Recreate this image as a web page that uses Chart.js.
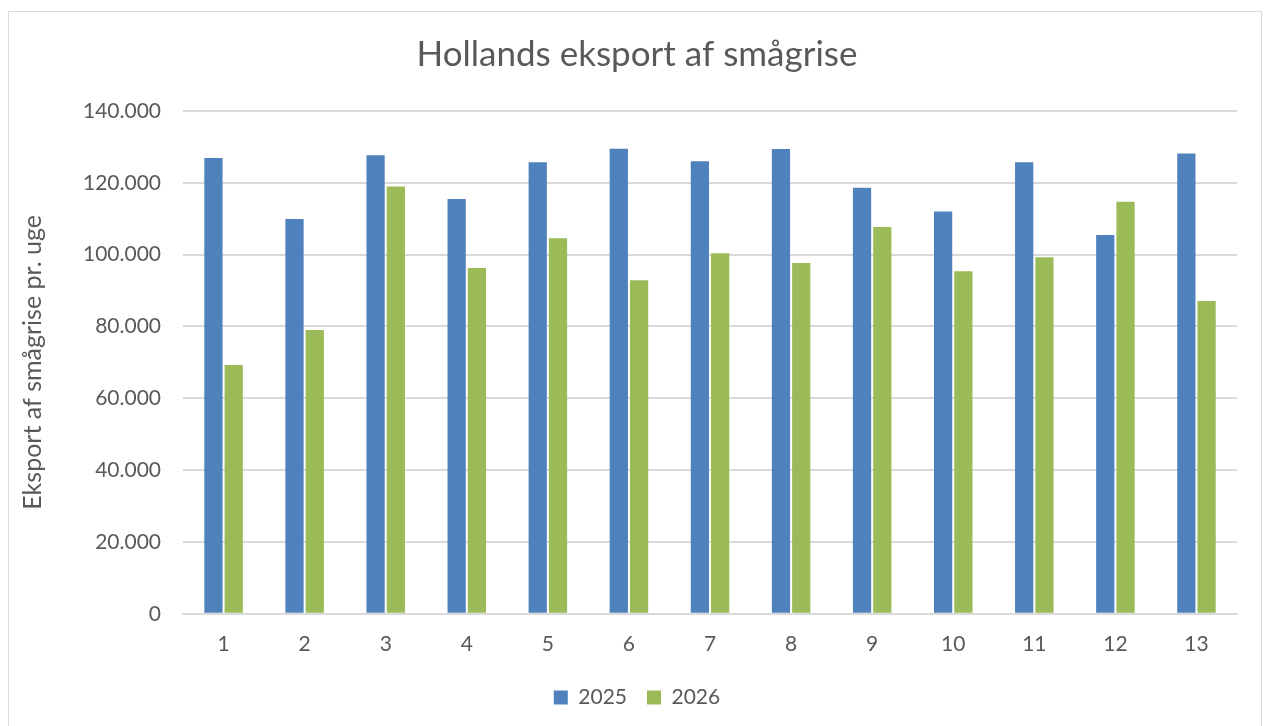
<!DOCTYPE html>
<html>
<head>
<meta charset="utf-8">
<script src="https://cdn.jsdelivr.net/npm/chart.js@4/dist/chart.umd.min.js"></script>
<style>
  body { margin: 0; background: #fff; }
  #boks { position: absolute; left: 8px; top: 11px; width: 1254px; height: 720px; border: 1px solid #d9d9d9; box-sizing: border-box; }
</style>
</head>
<body>
<div id="boks"><canvas id="chartEksport"></canvas></div>
<script>
// uger og eksport pr. uge
const uger = ['1', '2', '3', '4', '5', '6', '7', '8', '9', '10', '11', '12', '13'];
const eksport2025 = [126900, 109900, 127700, 115500, 125700, 129500, 126000, 129400, 118600, 112000, 125700, 105500, 128200];
const eksport2026 = [69300, 79000, 119000, 96300, 104600, 92900, 100400, 97700, 107700, 95400, 99300, 114700, 87100];
const yTicks = [0, 20000, 40000, 60000, 80000, 100000, 120000, 140000];

const tekstFarve = '#595959';
const skrift = 'Lato, "Open Sans", sans-serif';

function formatTal(v) {
  return v.toString().replace(/\B(?=(\d{3})+(?!\d))/g, '.');
}

const ctx = document.getElementById('chartEksport').getContext('2d');
window.chartEksport = new Chart(ctx, {
  type: 'bar',
  data: {
    labels: uger,
    datasets: [{
      label: '2025',
      data: eksport2025,
      backgroundColor: '#4f81bd',
      categoryPercentage: 0.5,
      barPercentage: 0.9
    }, {
      label: '2026',
      data: eksport2026,
      backgroundColor: '#9bbb59',
      categoryPercentage: 0.5,
      barPercentage: 0.9
    }]
  },
  options: {
    responsive: true,
    maintainAspectRatio: false,
    animation: false,
    layout: { padding: { left: 28, right: 24, top: 0, bottom: 12 } },
    plugins: {
      title: {
        display: true,
        text: 'Hollands eksport af smågrise',
        color: tekstFarve,
        font: { family: skrift, size: 35, weight: 'normal' },
        padding: { top: 22, bottom: 35 }
      },
      legend: {
        position: 'bottom',
        labels: {
          color: tekstFarve,
          font: { family: skrift, size: 21 },
          boxWidth: 14,
          boxHeight: 14,
          padding: 20
        }
      },
      tooltip: { enabled: false }
    },
    scales: {
      x: {
        grid: { display: false },
        border: { color: '#d9d9d9', width: 2 },
        ticks: { color: tekstFarve, font: { family: skrift, size: 21 }, padding: 10 }
      },
      y: {
        min: 0,
        max: 140000,
        afterBuildTicks: axis => { axis.ticks = yTicks.map(v => ({ value: v })); },
        grid: { color: '#d9d9d9', lineWidth: 2, drawTicks: false },
        border: { display: false },
        ticks: {
          color: tekstFarve,
          font: { family: skrift, size: 21 },
          padding: 22,
          callback: v => formatTal(v)
        },
        title: {
          display: true,
          text: 'Eksport af smågrise pr. uge',
          color: tekstFarve,
          font: { family: skrift, size: 25 },
          padding: { top: -19, bottom: 13 }
        }
      }
    }
  }
});
</script>
</body>
</html>
